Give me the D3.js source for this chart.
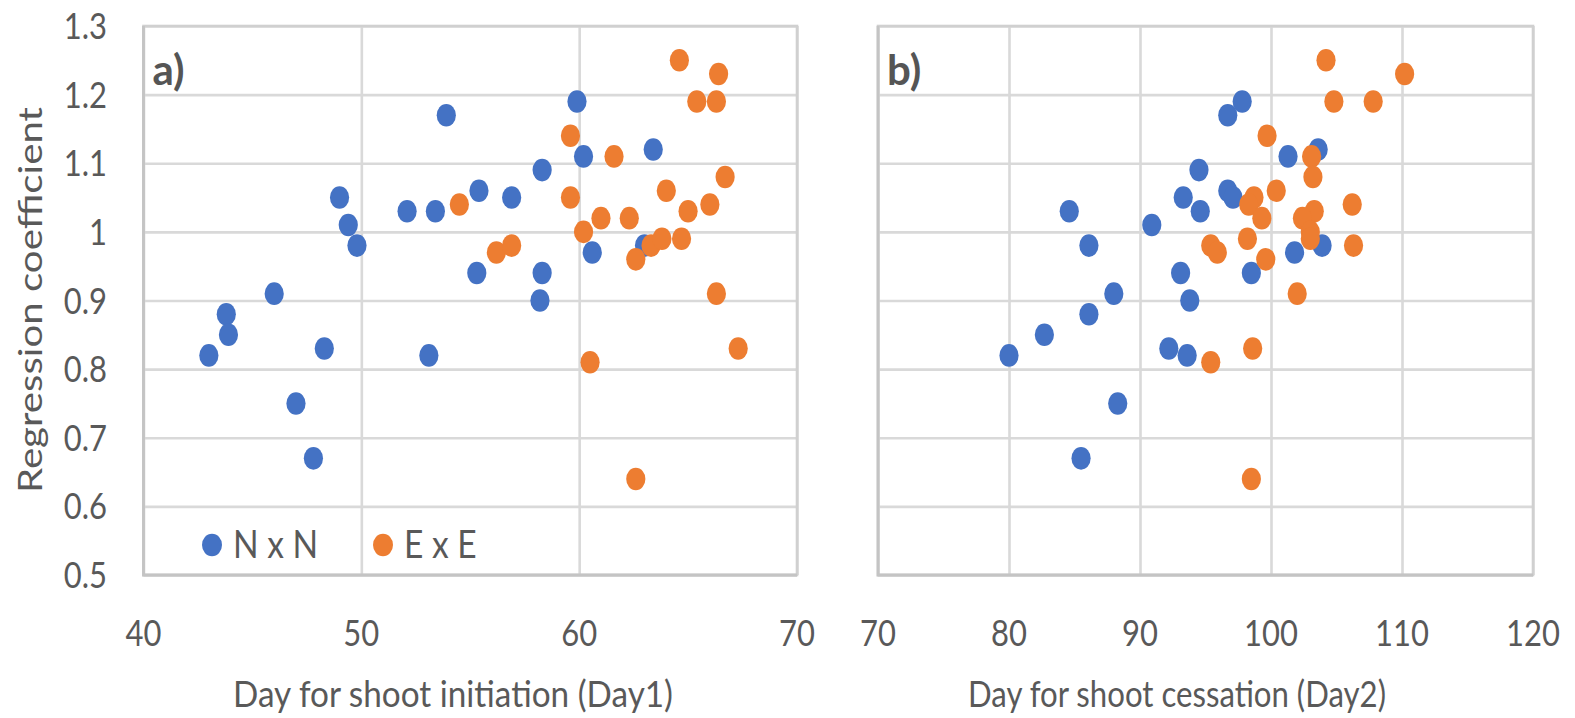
<!DOCTYPE html>
<html><head><meta charset="utf-8">
<script src="https://cdn.jsdelivr.net/npm/d3@7"></script>
<style>
body{margin:0;background:#fff}
svg{display:block}
text{font-family:Lato,"Open Sans",sans-serif;fill:#595959}
</style>
</head><body>
<svg id="chart" width="1575" height="718"></svg>
<script>
// ---- data ----
const seriesNames = ["N x N", "E x E"];
const seriesColors = ["#4472C4", "#ED7D31"];

const nnDay1 = [53.9,49.0,49.4,49.8,46.0,52.1,53.4,55.4,55.3,59.9,60.2,63.4,58.3,56.9,60.6,63.0,58.3,58.2,43.8,43.9,43.0,48.3,53.1,47.0,47.8];
const nnCoef1 = [1.17,1.05,1.01,0.98,0.91,1.03,1.03,1.06,0.94,1.19,1.11,1.12,1.09,1.05,0.97,0.98,0.94,0.90,0.88,0.85,0.82,0.83,0.82,0.75,0.67];
const eeDay1 = [54.5,64.6,66.4,65.4,66.3,59.6,61.6,59.6,66.7,64.0,66.0,65.0,61.0,62.3,60.2,56.2,56.9,63.3,63.8,64.7,62.6,66.3,67.3,60.5,62.6];
const eeCoef1 = [1.04,1.25,1.23,1.19,1.19,1.14,1.11,1.05,1.08,1.06,1.04,1.03,1.02,1.02,1.00,0.97,0.98,0.98,0.99,0.99,0.96,0.91,0.83,0.81,0.64];

const nnDay2 = [84.6,86.1,88.0,90.9,93.3,94.5,94.6,93.1,93.8,96.7,97.8,101.3,103.6,96.7,97.1,103.9,101.8,98.5,86.1,82.7,80.0,92.2,93.6,88.3,85.5];
const nnCoef2 = [1.03,0.98,0.91,1.01,1.05,1.09,1.03,0.94,0.90,1.17,1.19,1.11,1.12,1.06,1.05,0.98,0.97,0.94,0.88,0.85,0.82,0.83,0.82,0.75,0.67];
const eeDay2 = [95.4,95.9,104.2,110.2,104.8,107.8,99.7,103.1,103.2,100.4,98.7,98.3,99.3,106.2,103.3,102.4,103.0,103.0,98.2,106.3,99.6,102.0,98.6,95.4,98.5];
const eeCoef2 = [0.98,0.97,1.25,1.23,1.19,1.19,1.14,1.11,1.08,1.06,1.05,1.04,1.02,1.04,1.03,1.02,1.00,0.99,0.99,0.98,0.96,0.91,0.83,0.81,0.64];

const yTicks = [0.5,0.6,0.7,0.8,0.9,1.0,1.1,1.2,1.3];
const yTickLabels = ["0.5","0.6","0.7","0.8","0.9","1","1.1","1.2","1.3"];
const xTicks1 = [40,50,60,70];
const xTicks2 = [70,80,90,100,110,120];
const xTitle1 = "Day for shoot initiation (Day1)";
const xTitle2 = "Day for shoot cessation (Day2)";
const yTitle = "Regression coefficient";
const panelLabels = ["a)", "b)"];

// ---- drawing ----
const svg = d3.select("#chart");
const plotTop = 26, plotBottom = 575;
const y = d3.scaleLinear().domain([0.5,1.3]).range([plotBottom, plotTop]);
const K = 0.86; // horizontal squeeze of glyphs

function squeeze(sel, k){
  sel.each(function(){
    const w = this.getComputedTextLength();
    d3.select(this).attr("textLength", w*k).attr("lengthAdjust","spacingAndGlyphs");
  });
}

function panel(opts){
  const x = d3.scaleLinear().domain(opts.domain).range(opts.range);
  const g = svg.append("g");
  const w = opts.range[1]-opts.range[0];
  const gy = g.append("g").attr("transform",`translate(${opts.range[0]},0)`)
    .call(d3.axisLeft(y).tickValues(yTicks).tickSize(-w).tickFormat(""));
  gy.select(".domain").remove();
  gy.selectAll("line").attr("stroke","#d9d9d9").attr("stroke-width",2.6);
  const gx = g.append("g").attr("transform",`translate(0,${plotBottom})`)
    .call(d3.axisBottom(x).tickValues(opts.ticks).tickSize(-(plotBottom-plotTop)).tickFormat(""));
  gx.select(".domain").remove();
  gx.selectAll("line").attr("stroke","#d9d9d9").attr("stroke-width",2.6);
  g.append("rect").attr("x",opts.range[0]).attr("y",plotTop).attr("width",w).attr("height",plotBottom-plotTop)
    .attr("fill","none").attr("stroke","#d0d0d0").attr("stroke-width",2.6);
  g.append("path").attr("d",`M${opts.range[0]},${plotTop}V${plotBottom}H${opts.range[1]}`)
    .attr("fill","none").attr("stroke","#c4c4c4").attr("stroke-width",2.8);
  const xl = g.append("g").selectAll("text").data(opts.ticks).join("text")
    .attr("x", d=>x(d)).attr("y", 646).attr("text-anchor","middle")
    .attr("font-size",36).text(d=>d);
  squeeze(xl, K);
  g.append("text").attr("x",opts.titleX).attr("y",707)
    .attr("text-anchor","middle").attr("font-size",36).text(opts.title)
    .attr("textLength",opts.titleW).attr("lengthAdjust","spacingAndGlyphs");
  g.append("text").attr("x",opts.range[0]+9).attr("y",85).attr("font-size",42)
    .attr("font-weight","bold").style("fill","#555").text(opts.label);
  const sets = [[opts.nnX, opts.nnY, seriesColors[0]], [opts.eeX, opts.eeY, seriesColors[1]]];
  sets.forEach(([xs, ys, col])=>{
    g.append("g").selectAll("ellipse").data(xs.map((v,i)=>[v, ys[i]])).join("ellipse")
      .attr("cx", d=>x(d[0])).attr("cy", d=>y(d[1])).attr("rx",9.6).attr("ry",11.3)
      .attr("fill", col);
  });
  return g;
}

panel({domain:[40,70], range:[143.5,797], ticks:xTicks1, title:xTitle1, titleX:453, titleW:440, label:panelLabels[0],
       nnX:nnDay1, nnY:nnCoef1, eeX:eeDay1, eeY:eeCoef1});
panel({domain:[70,120], range:[878,1533], ticks:xTicks2, title:xTitle2, titleX:1177, titleW:418, label:panelLabels[1],
       nnX:nnDay2, nnY:nnCoef2, eeX:eeDay2, eeY:eeCoef2});

const yl = svg.append("g").selectAll("text").data(yTicks).join("text")
  .attr("x",107).attr("y", d=>y(d)+13).attr("text-anchor","end").attr("font-size",36)
  .text((d,i)=>yTickLabels[i]);
squeeze(yl, K);

const ytt = svg.append("text").attr("transform","translate(42,300) rotate(-90)")
  .attr("text-anchor","middle").attr("font-size",33).text(yTitle);
ytt.attr("textLength",386).attr("lengthAdjust","spacingAndGlyphs");

const lg = svg.append("g");
const legendX = [212, 383];
seriesNames.forEach((n,i)=>{
  lg.append("ellipse").attr("cx",legendX[i]).attr("cy",545).attr("rx",10).attr("ry",11.3).attr("fill",seriesColors[i]);
  const t = lg.append("text").attr("x",legendX[i]+21).attr("y",558).attr("font-size",39).text(n);
  squeeze(t, K);
});
</script>
</body></html>
